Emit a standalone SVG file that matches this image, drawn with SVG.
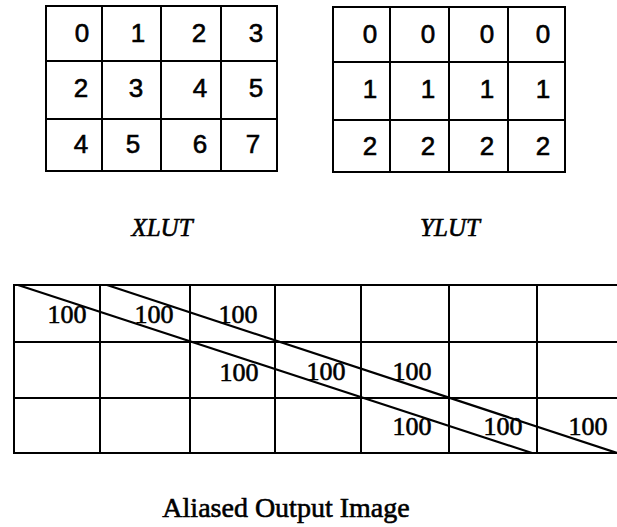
<svg xmlns="http://www.w3.org/2000/svg" width="617" height="527" viewBox="0 0 617 527">
  <style>
    .grid { fill: none; stroke: #000; stroke-width: 2; }
    .diag { fill: none; stroke: #000; stroke-width: 2.2; }
    text { fill: #000; stroke: #000; stroke-width: 0.6; text-anchor: middle; }
    .lut { font-family: "Liberation Sans", Arial, sans-serif; font-size: 26px; }
    .val { font-family: "Liberation Serif", "Times New Roman", serif; font-size: 26px; }
    .cap { font-family: "Liberation Serif", "Times New Roman", serif; font-size: 25px; font-style: italic; }
    .title { font-family: "Liberation Serif", "Times New Roman", serif; font-size: 28px; }
  </style>
  <rect width="617" height="527" fill="#fff"/>

  <!-- X lookup table -->
  <g id="xlut">
    <path class="grid" d="M46 6H277V171H46Z M102 6V171 M161 6V171 M221 6V171 M46 61H277 M46 119H277"/>
    <text class="lut" x="82" y="42">0</text>
    <text class="lut" x="138" y="42">1</text>
    <text class="lut" x="199" y="42">2</text>
    <text class="lut" x="256" y="42">3</text>
    <text class="lut" x="81" y="97">2</text>
    <text class="lut" x="136" y="97">3</text>
    <text class="lut" x="200" y="97">4</text>
    <text class="lut" x="256" y="97">5</text>
    <text class="lut" x="81" y="153">4</text>
    <text class="lut" x="133" y="153">5</text>
    <text class="lut" x="200" y="153">6</text>
    <text class="lut" x="253" y="153">7</text>
    <text class="cap" x="162" y="236">XLUT</text>
  </g>

  <!-- Y lookup table -->
  <g id="ylut">
    <path class="grid" d="M333 7H565V172H333Z M390 7V172 M449 7V172 M508 7V172 M333 62H565 M333 120H565"/>
    <text class="lut" x="370" y="43">0</text>
    <text class="lut" x="428" y="43">0</text>
    <text class="lut" x="487" y="43">0</text>
    <text class="lut" x="543" y="43">0</text>
    <text class="lut" x="370" y="98">1</text>
    <text class="lut" x="428" y="98">1</text>
    <text class="lut" x="487" y="98">1</text>
    <text class="lut" x="543" y="98">1</text>
    <text class="lut" x="370" y="155">2</text>
    <text class="lut" x="428" y="155">2</text>
    <text class="lut" x="487" y="155">2</text>
    <text class="lut" x="543" y="155">2</text>
    <text class="cap" x="450" y="236">YLUT</text>
  </g>

  <!-- Output image grid, open on the right -->
  <g id="output">
    <path class="grid" d="M617 285H14V453H617 M14 342H617 M14 398H617 M100 285V453 M190 285V453 M275 285V453 M361 285V453 M449 285V453 M537 285V453"/>
    <text class="val" x="67" y="323">100</text>
    <text class="val" x="154" y="323">100</text>
    <text class="val" x="238" y="323">100</text>
    <text class="val" x="239" y="381">100</text>
    <text class="val" x="326" y="380">100</text>
    <text class="val" x="412" y="380">100</text>
    <text class="val" x="412" y="435">100</text>
    <text class="val" x="503" y="435">100</text>
    <text class="val" x="588" y="435">100</text>
    <text class="title" x="286" y="517">Aliased Output Image</text>
  </g>

  <!-- Diagonal edges of the sampled strip -->
  <g id="connectors">
    <line class="diag" x1="18" y1="285" x2="532" y2="453"/>
    <line class="diag" x1="107" y1="285" x2="617" y2="453"/>
  </g>
</svg>
